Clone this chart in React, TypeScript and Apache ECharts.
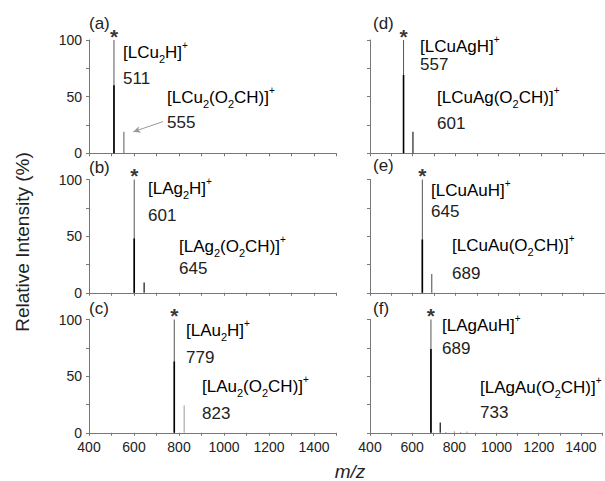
import React, { useEffect, useRef } from "react";
import * as echarts from "echarts";

// ---- data (m/z, relative intensity %) ----
const xTicks = [400, 600, 800, 1000, 1200, 1400];
const yTicks = [0, 50, 100];
const panelTags = ["(a)", "(b)", "(c)", "(d)", "(e)", "(f)"];

// base peak (100 %), isotopic-cluster core, formate adduct peak
const basePeaks = [511, 601, 779, 557, 645, 689];
const baseInt = [100, 100, 100, 100, 100, 100];
const coreInt = [60, 48, 63, 69, 47, 74];
const adductPeaks = [555, 645, 823, 601, 689, 733];
const adductInt = [19, 9, 24, 19, 16.5, 9];
const noiseF: number[][] = [
  [760, 0.8],
  [800, 1.2],
  [830, 0.8],
  [860, 1.0],
  [890, 0.6],
];

// annotation labels: [ion formula (rich markup), m/z]
const ionMain = [
  "{m|[LCu}{s|2}{m|H]}{p|+}",
  "{m|[LAg}{s|2}{m|H]}{p|+}",
  "{m|[LAu}{s|2}{m|H]}{p|+}",
  "{m|[LCuAgH]}{p|+}",
  "{m|[LCuAuH]}{p|+}",
  "{m|[LAgAuH]}{p|+}",
];
const ionAdduct = [
  "{m|[LCu}{s|2}{m|(O}{s|2}{m|CH)]}{p|+}",
  "{m|[LAg}{s|2}{m|(O}{s|2}{m|CH)]}{p|+}",
  "{m|[LAu}{s|2}{m|(O}{s|2}{m|CH)]}{p|+}",
  "{m|[LCuAg(O}{s|2}{m|CH)]}{p|+}",
  "{m|[LCuAu(O}{s|2}{m|CH)]}{p|+}",
  "{m|[LAgAu(O}{s|2}{m|CH)]}{p|+}",
];

// ---- layout ----
const FONT = "'Liberation Sans', Arial, sans-serif";
const gridLefts = [89, 89, 89, 370, 370, 370];
const gridTops = [40, 179.5, 319.5, 40, 179.5, 319.5];
const GRID_W = 247.5;
const GRID_H = 113.3;

// label anchors (left x, center y) per panel
const tagPos = [
  [89, 23], [89, 167], [89, 308], [373, 23], [373, 165], [373, 308],
];
const mainPos = [
  [123, 52, 78], [148, 188, 215], [186, 330, 357],
  [420, 46, 64], [431, 190, 211], [442, 325, 348],
];
const addPos = [
  [167, 97, 122], [179, 246, 268], [202, 386, 413],
  [437, 97, 123], [452, 245, 273], [480, 387, 412],
];
const adductColors = ["#777", "#111", "#aaa", "#222", "#666", "#111"];

function sticks(pairs: number[][]) {
  const out: any[] = [];
  pairs.forEach(([x, h]) => {
    out.push([x, 0], [x, h], null);
  });
  return out;
}

const rich = {
  m: { fontSize: 17, fontFamily: FONT, color: "#222", lineHeight: 24 },
  s: {
    fontSize: 11,
    fontFamily: FONT,
    color: "#222",
    lineHeight: 11,
    verticalAlign: "bottom",
  },
  p: {
    fontSize: 10,
    fontFamily: FONT,
    color: "#222",
    lineHeight: 10,
    verticalAlign: "top",
  },
};

export default function App() {
  const ref = useRef<HTMLDivElement>(null);
  useEffect(() => {
    if (!ref.current) return;
    const chart = echarts.init(ref.current, undefined, { renderer: "svg" });

    const grid = gridLefts.map((l, i) => ({
      left: l,
      top: gridTops[i],
      width: GRID_W,
      height: GRID_H,
      containLabel: false,
    }));

    const axisLine = { lineStyle: { color: "#777", width: 1 } };
    const xAxis = grid.map((_, i) => ({
      type: "value",
      gridIndex: i,
      min: 400,
      max: 1500,
      interval: 100,
      splitLine: { show: false },
      axisLine: { ...axisLine, onZero: false },
      axisTick: { show: true, length: 3, lineStyle: { color: "#777" } },
      axisLabel: {
        show: i === 2 || i === 5,
        fontSize: 14,
        fontFamily: FONT,
        color: "#222",
        margin: 7,
        formatter: (v: number) => (xTicks.includes(v) ? String(v) : ""),
      },
    }));
    const yAxis = grid.map((_, i) => ({
      type: "value",
      gridIndex: i,
      min: 0,
      max: 100,
      interval: 25,
      splitLine: { show: false },
      axisLine: { ...axisLine, show: true },
      axisTick: { show: true, length: 3, lineStyle: { color: "#777" } },
      axisLabel: {
        show: i < 3,
        fontSize: 14,
        fontFamily: FONT,
        color: "#222",
        margin: 7,
        formatter: (v: number) => (yTicks.includes(v) ? String(v) : ""),
      },
    }));

    const series: any[] = [];
    for (let i = 0; i < 6; i++) {
      series.push({
        type: "line",
        xAxisIndex: i,
        yAxisIndex: i,
        symbol: "none",
        connectNulls: false,
        lineStyle: { color: "#555", width: 1 },
        data: sticks([[basePeaks[i], baseInt[i]]]),
        z: 3,
      });
      series.push({
        type: "line",
        xAxisIndex: i,
        yAxisIndex: i,
        symbol: "none",
        lineStyle: { color: "#000", width: 1.6 },
        data: sticks([[basePeaks[i], coreInt[i]]]),
        z: 4,
      });
      const adductSeries: any = {
        type: "line",
        xAxisIndex: i,
        yAxisIndex: i,
        symbol: "none",
        lineStyle: { color: adductColors[i], width: 1.2 },
        data: sticks([[adductPeaks[i], adductInt[i]]]),
        z: 3,
      };
      if (i === 0) {
        adductSeries.markLine = {
          silent: true,
          symbol: ["none", "arrow"],
          symbolSize: [5, 7],
          lineStyle: { color: "#999", width: 1, type: "solid" },
          label: { show: false },
          data: [[{ coord: [729, 28] }, { coord: [597, 19] }]],
        };
      }
      series.push(adductSeries);
      // asterisk over base peak
      series.push({
        type: "scatter",
        xAxisIndex: i,
        yAxisIndex: i,
        symbolSize: 0.1,
        itemStyle: { color: "transparent" },
        label: {
          show: true,
          position: "top",
          distance: -7,
          formatter: "*",
          fontSize: 21,
          fontFamily: FONT,
          fontWeight: "bold",
          color: "#000",
        },
        data: [[basePeaks[i], baseInt[i]]],
        z: 5,
      });
    }
    series.push({
      type: "line",
      xAxisIndex: 5,
      yAxisIndex: 5,
      symbol: "none",
      lineStyle: { color: "#888", width: 1 },
      data: sticks(noiseF),
      z: 2,
    });

    const graphic: any[] = [];
    for (let i = 0; i < 6; i++) {
      graphic.push({
        type: "text",
        x: tagPos[i][0],
        y: tagPos[i][1],
        style: {
          text: panelTags[i],
          font: `17px ${FONT}`,
          fill: "#222",
          verticalAlign: "middle",
        },
      });
      graphic.push({
        type: "text",
        x: mainPos[i][0],
        y: mainPos[i][1],
        style: { text: ionMain[i], rich, verticalAlign: "middle" },
      });
      graphic.push({
        type: "text",
        x: mainPos[i][0],
        y: mainPos[i][2],
        style: {
          text: String(basePeaks[i]),
          font: `17px ${FONT}`,
          fill: "#222",
          verticalAlign: "middle",
        },
      });
      graphic.push({
        type: "text",
        x: addPos[i][0],
        y: addPos[i][1],
        style: { text: ionAdduct[i], rich, verticalAlign: "middle" },
      });
      graphic.push({
        type: "text",
        x: addPos[i][0],
        y: addPos[i][2],
        style: {
          text: String(adductPeaks[i]),
          font: `17px ${FONT}`,
          fill: "#222",
          verticalAlign: "middle",
        },
      });
    }
    graphic.push({
      type: "text",
      x: 22,
      y: 242,
      rotation: Math.PI / 2,
      style: {
        text: "Relative Intensity (%)",
        font: `19px ${FONT}`,
        fill: "#222",
        align: "center",
        verticalAlign: "middle",
      },
    });
    graphic.push({
      type: "text",
      x: 350,
      y: 471,
      style: {
        text: "m/z",
        font: `italic 19px ${FONT}`,
        fill: "#222",
        align: "center",
        verticalAlign: "middle",
      },
    });

    chart.setOption({
      animation: false,
      backgroundColor: "#fff",
      grid,
      xAxis,
      yAxis,
      series,
      graphic,
    });
    return () => chart.dispose();
  }, []);

  return (
    <div
      ref={ref}
      style={{ position: "fixed", left: 0, top: 0, width: 605, height: 481 }}
    />
  );
}
